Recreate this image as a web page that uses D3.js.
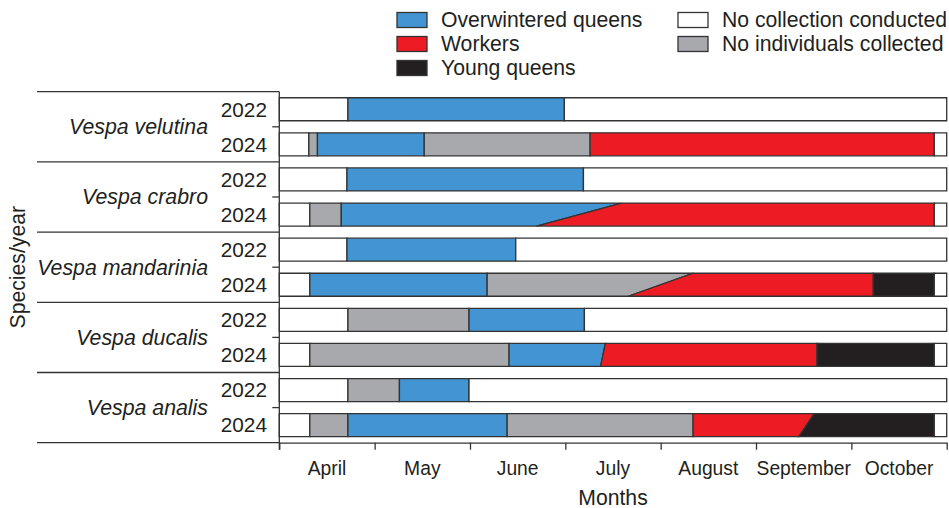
<!DOCTYPE html>
<html lang="en">
<head>
  <meta charset="utf-8">
  <title>Vespa seasonal collections</title>
  <script src="https://d3js.org/d3.v7.min.js"></script>
  <style>
    body { margin: 0; background: #fff; }
    text { font-family: "Liberation Sans", Arial, Helvetica, sans-serif; fill: #231f20; }
  </style>
</head>
<body>
<script>
  // months shown on the x axis (each is one unit, 0 = 1 April)
  var months = ["April", "May", "June", "July", "August", "September", "October"];
  var species = ["Vespa velutina", "Vespa crabro", "Vespa mandarinia", "Vespa ducalis", "Vespa analis"];
  var years = ["2022", "2024"];

  var catKeys = ["ow", "wk", "yq", "nc", "ni"];
  var catNames = ["Overwintered queens", "Workers", "Young queens", "No collection conducted", "No individuals collected"];
  var catColors = ["#4394d2", "#ed1c24", "#231f20", "#ffffff", "#a7a9ac"];

  // one entry per row (species x year): segment categories and their break points
  // a break is a month value, or [top, bottom] when the boundary is slanted
  var rowCats = [
    ["nc", "ow", "nc"],
    ["nc", "ni", "ow", "ni", "wk", "nc"],
    ["nc", "ow", "nc"],
    ["nc", "ni", "ow", "wk", "nc"],
    ["nc", "ow", "nc"],
    ["nc", "ow", "ni", "wk", "yq", "nc"],
    ["nc", "ni", "ow", "nc"],
    ["nc", "ni", "ow", "wk", "yq", "nc"],
    ["nc", "ni", "ow", "nc"],
    ["nc", "ni", "ow", "ni", "wk", "yq", "nc"]
  ];
  var rowBreaks = [
    [0, 0.72, 2.99, 7],
    [0, 0.31, 0.40, 1.52, 3.26, 6.87, 7],
    [0, 0.71, 3.19, 7],
    [0, 0.32, 0.65, [3.59, 2.70], 6.87, 7],
    [0, 0.71, 2.48, 7],
    [0, 0.32, 2.18, [4.34, 3.66], 6.23, 6.87, 7],
    [0, 0.72, 1.99, 3.20, 7],
    [0, 0.32, 2.41, [3.42, 3.37], 5.64, 6.87, 7],
    [0, 0.72, 1.26, 1.99, 7],
    [0, 0.32, 0.72, 2.39, 4.34, [5.61, 5.45], 6.87, 7]
  ];

  var w = 949, h = 508;
  var plotL = 279.3, plotR = 946.7, plotT = 91.7, plotB = 442.7;
  var fs = 21.2;

  var svg = d3.select("body").append("svg")
    .attr("width", w)
    .attr("height", h);

  var color = d3.scaleOrdinal().domain(catKeys).range(catColors);

  var x = d3.scaleLinear().domain([0, months.length]).range([plotL, plotR]);

  var rowIds = d3.range(rowCats.length);
  var y = d3.scaleBand().domain(rowIds).range([plotT, plotB])
    .paddingInner(0.345).paddingOuter(0.1725);

  var groupY = d3.scaleBand().domain(species).range([plotT, plotB]);

  // bars
  function tb(b) { return Array.isArray(b) ? b : [b, b]; }

  rowIds.forEach(function(r) {
    var y0 = y(r), y1 = y(r) + y.bandwidth();
    var br = rowBreaks[r];
    var segs = rowCats[r].map(function(c, i) {
      var a = tb(br[i]), b = tb(br[i + 1]);
      return { cat: c, pts: [[x(a[0]), y0], [x(b[0]), y0], [x(b[1]), y1], [x(a[1]), y1]] };
    });
    svg.append("g").selectAll("polygon")
      .data(segs)
      .join("polygon")
      .attr("points", function(d) { return d.pts.map(function(p) { return p.join(","); }).join(" "); })
      .attr("fill", function(d) { return color(d.cat); })
      .attr("stroke", "#333")
      .attr("stroke-width", 1.3);
  });

  // group separators on the left
  svg.append("g").selectAll("line")
    .data(d3.range(species.length + 1))
    .join("line")
    .attr("x1", 37).attr("x2", plotL)
    .attr("y1", function(i) { return plotT + i * groupY.step(); })
    .attr("y2", function(i) { return plotT + i * groupY.step(); })
    .attr("stroke", "#333").attr("stroke-width", 1.3);

  // y axis line + ticks at group centres
  svg.append("line")
    .attr("x1", plotL).attr("x2", plotL).attr("y1", plotT).attr("y2", plotB + 7)
    .attr("stroke", "#333").attr("stroke-width", 1.3);
  svg.append("g").selectAll("line")
    .data(species)
    .join("line")
    .attr("x1", plotL - 7).attr("x2", plotL)
    .attr("y1", function(d) { return groupY(d) + groupY.bandwidth() / 2; })
    .attr("y2", function(d) { return groupY(d) + groupY.bandwidth() / 2; })
    .attr("stroke", "#333").attr("stroke-width", 1.3);

  // species names
  svg.append("g").selectAll("text")
    .data(species)
    .join("text")
    .attr("x", 208)
    .attr("y", function(d) { return groupY(d) + groupY.bandwidth() / 2; })
    .attr("dy", "0.35em")
    .attr("text-anchor", "end")
    .attr("font-style", "italic")
    .attr("font-size", 21.3)
    .text(function(d) { return d; });

  // year labels
  svg.append("g").selectAll("text")
    .data(rowIds)
    .join("text")
    .attr("x", 267)
    .attr("y", function(r) { return y(r) + y.bandwidth() / 2; })
    .attr("dy", "0.35em")
    .attr("text-anchor", "end")
    .attr("font-size", 20.8)
    .text(function(r) { return years[r % years.length]; });

  // x axis
  var xAxis = svg.append("g")
    .attr("transform", "translate(0," + plotB + ")")
    .call(d3.axisBottom(x).tickValues(d3.range(months.length + 1)).tickSize(7).tickSizeOuter(0).tickFormat(""));
  xAxis.select(".domain").attr("stroke", "#333").attr("stroke-width", 1.3);
  xAxis.selectAll(".tick line").attr("stroke", "#333").attr("stroke-width", 1.3);

  svg.append("g").selectAll("text")
    .data(months)
    .join("text")
    .attr("x", function(d, i) { return x(i + 0.5); })
    .attr("y", 475)
    .attr("text-anchor", "middle")
    .attr("font-size", 19.3)
    .text(function(d) { return d; });

  svg.append("text")
    .attr("x", (plotL + plotR) / 2)
    .attr("y", 505)
    .attr("text-anchor", "middle")
    .attr("font-size", fs)
    .text("Months");

  svg.append("text")
    .attr("transform", "translate(25," + ((plotT + plotB) / 2) + ") rotate(-90)")
    .attr("text-anchor", "middle")
    .attr("font-size", fs)
    .text("Species/year");

  // legend
  var legCol = [0, 0, 0, 1, 1], legRow = [0, 1, 2, 0, 1];
  var leg = svg.append("g").selectAll("g")
    .data(catKeys)
    .join("g")
    .attr("transform", function(d, i) { return "translate(" + (legCol[i] ? 678 : 397) + "," + (20 + legRow[i] * 24) + ")"; });
  leg.append("rect")
    .attr("x", 0).attr("y", -7.5).attr("width", 30).attr("height", 15)
    .attr("fill", function(d) { return color(d); })
    .attr("stroke", "#333").attr("stroke-width", 1.3);
  leg.append("text")
    .attr("x", 44).attr("dy", "0.35em")
    .attr("font-size", fs)
    .text(function(d, i) { return catNames[i]; });
</script>
</body>
</html>
